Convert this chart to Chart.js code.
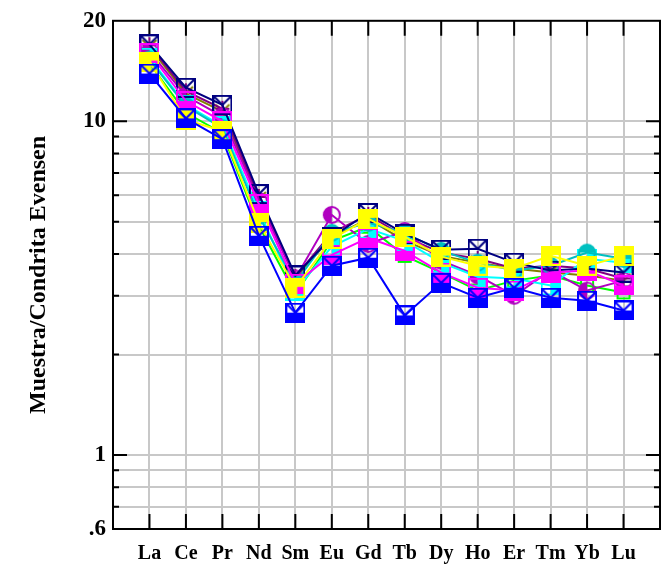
<!DOCTYPE html>
<html>
<head>
<meta charset="utf-8">
<script src="https://cdn.jsdelivr.net/npm/chart.js@4/dist/chart.umd.min.js"></script>
<style>
  html, body { margin: 0; padding: 0; background: #fff; }
  #wrap { width: 661px; height: 568px; }
</style>
</head>
<body>
<div id="wrap"><canvas id="myChart" width="661" height="568"></canvas></div>
<script>
// REE elements, normalised to chondrite (Evensen)
const elements = ['La', 'Ce', 'Pr', 'Nd', 'Sm', 'Eu', 'Gd', 'Tb', 'Dy', 'Ho', 'Er', 'Tm', 'Yb', 'Lu'];

const yTicks = [0.6, 0.7, 0.8, 0.9, 1, 2, 3, 4, 5, 6, 7, 8, 9, 10, 20];
const yLabels = { 0.6: '.6', 1: '1', 10: '10', 20: '20' };

// values, one array per sample
const sBlue    = [13.9, 10.2, 8.84, 4.54, 2.67, 3.69, 3.90, 2.62, 3.28, 2.96, 3.17, 2.96, 2.90, 2.71];
const sYellow  = [15.1, 10.1, 9.34, 4.96, 3.17, 4.44, 5.10, 4.50, 3.93, 3.69, 3.62, 3.95, 3.69, 3.95];
const sMagenta = [16.0, 11.5, 10.0, 5.65, 3.26, 3.98, 4.47, 4.09, 3.52, 3.17, 3.11, 3.52, 3.57, 3.22];
const sNavy    = [17.0, 12.6, 11.2, 6.05, 3.45, 4.50, 5.31, 4.60, 4.12, 4.15, 3.77, 3.57, 3.62, 3.52];
const sCyan    = [15.5, 11.2, 9.66, 5.39, 3.11, 4.21, 4.76, 4.38, 3.77, 3.42, 3.38, 3.22, 3.87, 3.77];
const sTeal    = [15.3, 11.1, 9.53, 5.20, 3.28, 4.63, 4.96, 4.63, 4.09, 3.77, 3.57, 3.69, 4.04, 3.87];
const sPurple  = [16.2, 11.9, 10.35, 5.77, 3.38, 5.24, 4.29, 4.69, 3.82, 3.45, 3.00, 3.57, 3.11, 3.33];
const sOlive   = [16.7, 12.1, 10.7, 5.85, 3.40, 4.50, 5.10, 4.38, 3.95, 3.77, 3.62, 3.52, 3.45, 3.33];
const sPlum    = [16.9, 12.3, 10.9, 5.93, 3.42, 4.63, 5.24, 4.50, 4.04, 3.87, 3.62, 3.69, 3.62, 3.38];
const sGreen   = [14.9, 10.6, 9.21, 4.86, 3.04, 4.38, 4.83, 3.95, 3.52, 3.11, 3.33, 3.45, 3.22, 3.07];

// little marker pictures, igpet style
const S = 18;
function marker(draw) {
  const c = document.createElement('canvas');
  c.width = S + 2; c.height = S + 2;
  const g = c.getContext('2d');
  g.lineWidth = 2;
  draw(g, 1, 1, S);
  return c;
}
const sqOpenV = col => marker((g, x, y, s) => {
  g.strokeStyle = col;
  g.strokeRect(x, y, s, s);
  g.beginPath(); g.moveTo(x, y); g.lineTo(x + s / 2, y + s / 2); g.lineTo(x + s, y); g.stroke();
});
const sqBottomV = col => marker((g, x, y, s) => {
  g.strokeStyle = col; g.fillStyle = col;
  g.strokeRect(x, y, s, s);
  g.fillRect(x, y + s / 2, s, s / 2);
  g.beginPath(); g.moveTo(x, y); g.lineTo(x + s / 2, y + s / 2); g.lineTo(x + s, y); g.stroke();
});
const sqBottom = col => marker((g, x, y, s) => {
  g.strokeStyle = col; g.fillStyle = col;
  g.strokeRect(x, y, s, s);
  g.fillRect(x, y + s / 2, s, s / 2);
});
const sqYellow = col => marker((g, x, y, s) => {
  g.strokeStyle = col; g.fillStyle = col;
  g.strokeRect(x, y, s, s);
  g.fillRect(x, y, s * 0.6, s);
  g.fillRect(x, y, s, s * 0.45);
});
const sqRight = col => marker((g, x, y, s) => {
  g.strokeStyle = col; g.fillStyle = col;
  g.strokeRect(x, y, s, s);
  g.fillRect(x + s / 2, y, s / 2, s);
});
const circTop = col => marker((g, x, y, s) => {
  g.strokeStyle = col; g.fillStyle = col;
  g.beginPath(); g.arc(x + s / 2, y + s / 2, s / 2 - 1, 0, Math.PI * 2); g.stroke();
  g.beginPath(); g.arc(x + s / 2, y + s / 2, s / 2 - 1, Math.PI, Math.PI * 2); g.fill();
});
const circLeft = col => marker((g, x, y, s) => {
  g.strokeStyle = col; g.fillStyle = col;
  g.beginPath(); g.arc(x + s / 2, y + s / 2, s / 2 - 1, 0, Math.PI * 2); g.stroke();
  g.beginPath(); g.arc(x + s / 2, y + s / 2, s / 2 - 1, Math.PI / 2, Math.PI * 1.5); g.fill();
});
const vMark = col => marker((g, x, y, s) => {
  g.strokeStyle = col;
  g.beginPath(); g.moveTo(x + 2, y + 2); g.lineTo(x + s / 2, y + s / 2); g.lineTo(x + s - 2, y + 2); g.stroke();
});
const plusMark = col => marker((g, x, y, s) => {
  g.strokeStyle = col;
  g.beginPath(); g.moveTo(x + s / 2, y + 1); g.lineTo(x + s / 2, y + s - 1); g.stroke();
  g.beginPath(); g.moveTo(x + 2, y + s / 2); g.lineTo(x + s - 2, y + s / 2); g.stroke();
});
const sqOpen = col => marker((g, x, y, s) => {
  g.strokeStyle = col;
  g.strokeRect(x + 3, y + 3, s - 6, s - 6);
});

const series = [
  { data: sBlue,    color: '#0000ff', mk: sqBottomV('#0000ff') },
  { data: sYellow,  color: '#ffff00', mk: sqYellow('#ffff00') },
  { data: sMagenta, color: '#ff00ff', mk: sqBottom('#ff00ff') },
  { data: sNavy,    color: '#000080', mk: sqOpenV('#000080') },
  { data: sTeal,    color: '#00c0c0', mk: circTop('#00c0c0') },
  { data: sCyan,    color: '#00ffff', mk: sqRight('#00ffff') },
  { data: sPurple,  color: '#b000c0', mk: circLeft('#b000c0') },
  { data: sPlum,    color: '#800080', mk: plusMark('#800080') },
  { data: sOlive,   color: '#808000', mk: vMark('#808000') },
  { data: sGreen,   color: '#00ff00', mk: sqOpen('#00ff00') }
];

const datasets = series.map(s => ({
  data: s.data.map((v, i) => ({ x: i + 1, y: v })),
  borderColor: s.color,
  backgroundColor: s.color,
  borderWidth: 2,
  pointStyle: s.mk,
  pointRadius: 9,
  tension: 0
}));

// frame and inward tick marks
const frame = {
  id: 'frame',
  beforeDatasetsDraw(chart) {
    const { ctx, chartArea: a, scales } = chart;
    ctx.save();
    ctx.strokeStyle = '#000';
    ctx.lineWidth = 2;
    ctx.beginPath();
    for (let i = 1; i <= elements.length; i++) {
      const px = scales.x.getPixelForValue(i);
      ctx.moveTo(px, a.bottom); ctx.lineTo(px, a.bottom - 15);
      ctx.moveTo(px, a.top); ctx.lineTo(px, a.top + 15);
    }
    yTicks.forEach(v => {
      if (v === 0.6 || v === 20) return;
      const py = scales.y.getPixelForValue(v);
      const len = (v === 1 || v === 10) ? 14 : 6;
      ctx.moveTo(a.left, py); ctx.lineTo(a.left + len, py);
      ctx.moveTo(a.right, py); ctx.lineTo(a.right - len, py);
    });
    ctx.stroke();
    ctx.strokeRect(a.left, a.top, a.right - a.left, a.bottom - a.top);
    ctx.restore();
  }
};

const serif = '"Liberation Serif", "Times New Roman", serif';

new Chart(document.getElementById('myChart'), {
  type: 'line',
  data: { datasets: datasets },
  options: {
    responsive: false,
    animation: false,
    layout: { autoPadding: false, padding: { top: 19, right: 1, left: 0, bottom: 0 } },
    plugins: { legend: { display: false }, tooltip: { enabled: false } },
    scales: {
      x: {
        type: 'linear',
        min: 0,
        max: elements.length + 1,
        afterBuildTicks: scale => {
          scale.ticks = [];
          for (let i = 0; i <= elements.length + 1; i++) scale.ticks.push({ value: i });
        },
        afterFit: scale => { scale.height = 39; },
        ticks: {
          autoSkip: false,
          maxRotation: 0,
          padding: 0,
          color: '#000',
          font: { family: serif, size: 20, weight: 'bold' },
          callback: v => elements[v - 1] || ''
        },
        grid: {
          drawTicks: true,
          tickLength: 13,
          tickColor: 'rgba(0,0,0,0)',
          color: c => (c.tick && (c.tick.value === 0 || c.tick.value === elements.length + 1)) ? 'rgba(0,0,0,0)' : '#c8c8c8',
          lineWidth: 2
        },
        border: { display: false }
      },
      y: {
        type: 'logarithmic',
        min: 0.6,
        max: 20,
        afterBuildTicks: scale => { scale.ticks = yTicks.map(v => ({ value: v })); },
        afterFit: scale => { scale.width = 113; },
        ticks: {
          autoSkip: false,
          padding: 7,
          color: '#000',
          font: { family: serif, size: 23, weight: 'bold' },
          callback: v => yLabels[v] || ''
        },
        grid: {
          drawTicks: false,
          color: c => (c.tick && (c.tick.value === 0.6 || c.tick.value === 20)) ? 'rgba(0,0,0,0)' : '#c8c8c8',
          lineWidth: 2
        },
        border: { display: false },
        title: {
          display: true,
          text: 'Muestra/Condrita Evensen',
          color: '#000',
          font: { family: serif, size: 24, weight: 'bold' },
          padding: { top: 24, bottom: 0 }
        }
      }
    }
  },
  plugins: [frame]
});
</script>
</body>
</html>
